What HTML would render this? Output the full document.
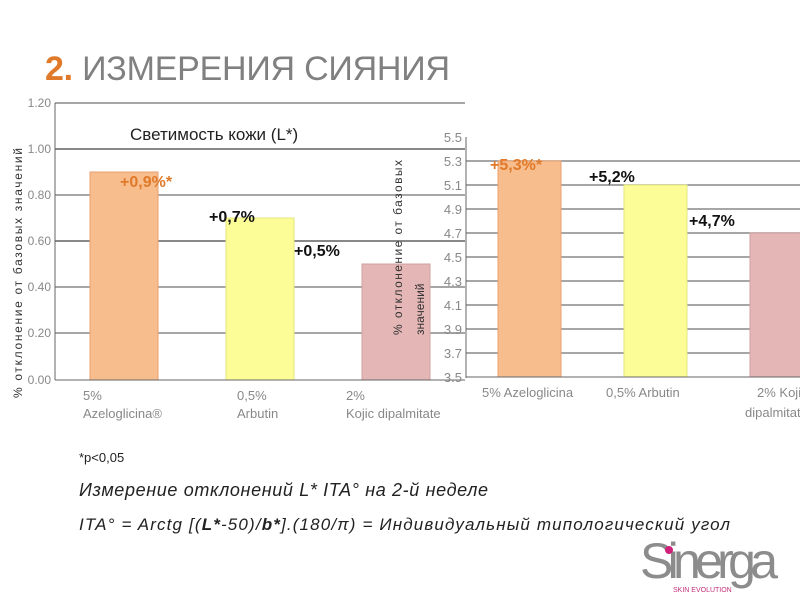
<!DOCTYPE html>
<html><head><meta charset="utf-8"><style>
body{margin:0;width:800px;height:600px;background:#fff;overflow:hidden;font-family:"Liberation Sans","DejaVu Sans",sans-serif}
</style></head><body>
<svg width="800" height="600" xmlns="http://www.w3.org/2000/svg" font-family="Liberation Sans, DejaVu Sans, sans-serif">
<text x="45" y="80" font-size="34" fill="#808080" textLength="405"><tspan fill="#e07a2a" font-weight="bold">2.</tspan> ИЗМЕРЕНИЯ СИЯНИЯ</text>
<!-- left chart -->
<g stroke="#888" stroke-width="1.5">
<line x1="55" y1="103" x2="465" y2="103"/>
<line x1="55" y1="149" x2="465" y2="149" stroke-width="2"/>
<line x1="55" y1="195" x2="465" y2="195"/>
<line x1="55" y1="241" x2="465" y2="241" stroke-width="2"/>
<line x1="55" y1="287" x2="465" y2="287"/>
<line x1="55" y1="333" x2="465" y2="333"/>
</g>
<rect x="90" y="172" width="68" height="208" fill="#f7bd8d" stroke="#e8a070"/>
<rect x="226" y="218" width="68" height="162" fill="#fdfd98" stroke="#e6e680"/>
<rect x="362" y="264" width="68" height="116" fill="#e4b6b6" stroke="#d0a0a0"/>
<line x1="55" y1="103" x2="55" y2="380" stroke="#666"/>
<line x1="55" y1="380" x2="465" y2="380" stroke="#666"/>
<g font-size="12" fill="#888" text-anchor="end">
<text x="51" y="107">1.20</text><text x="51" y="153">1.00</text><text x="51" y="199">0.80</text>
<text x="51" y="245">0.60</text><text x="51" y="291">0.40</text><text x="51" y="337">0.20</text><text x="51" y="384">0.00</text>
</g>
<text transform="translate(22,398) rotate(-90)" font-size="12" fill="#333" textLength="250">% отклонение от базовых значений</text>
<text x="130" y="140" font-size="17" fill="#222">Светимость кожи (L*)</text>
<g font-size="13" fill="#888">
<text x="83" y="400">5%</text><text x="83" y="418">Azeloglicina®</text>
<text x="237" y="400">0,5%</text><text x="237" y="418">Arbutin</text>
<text x="346" y="400">2%</text><text x="346" y="418">Kojic dipalmitate</text>
</g>
<g font-size="16" font-weight="bold">
<text x="120" y="187" fill="#e07a2a">+0,9%*</text>
<text x="209" y="222" fill="#111">+0,7%</text>
<text x="294" y="256" fill="#111">+0,5%</text>
</g>
<!-- right chart -->
<g stroke="#888" stroke-width="1.5">
<line x1="466" y1="161" x2="800" y2="161"/><line x1="466" y1="185" x2="800" y2="185"/>
<line x1="466" y1="209" x2="800" y2="209"/><line x1="466" y1="233" x2="800" y2="233"/>
<line x1="466" y1="257" x2="800" y2="257"/><line x1="466" y1="281" x2="800" y2="281"/>
<line x1="466" y1="305" x2="800" y2="305"/><line x1="466" y1="329" x2="800" y2="329"/>
<line x1="466" y1="353" x2="800" y2="353"/>
</g>
<rect x="498" y="161" width="63" height="216" fill="#f7bd8d" stroke="#e8a070"/>
<rect x="624" y="185" width="63" height="192" fill="#fdfd98" stroke="#e6e680"/>
<rect x="750" y="233" width="52" height="144" fill="#e4b6b6" stroke="#d0a0a0"/>
<line x1="466" y1="137" x2="466" y2="378" stroke="#666"/>
<line x1="466" y1="377" x2="800" y2="377" stroke="#666"/>
<g font-size="13" fill="#888" text-anchor="end">
<text x="462" y="142">5.5</text><text x="462" y="166">5.3</text><text x="462" y="190">5.1</text>
<text x="462" y="214">4.9</text><text x="462" y="238">4.7</text><text x="462" y="262">4.5</text>
<text x="462" y="286">4.3</text><text x="462" y="310">4.1</text><text x="462" y="334">3.9</text>
<text x="462" y="358">3.7</text><text x="462" y="382">3.5</text>
</g>
<text transform="translate(402,335) rotate(-90)" font-size="12" fill="#333" textLength="175">% отклонение от базовых</text>
<text transform="translate(424,335) rotate(-90)" font-size="12" fill="#333">значений</text>
<g font-size="13" fill="#888">
<text x="482" y="397">5% Azeloglicina</text>
<text x="606" y="397">0,5% Arbutin</text>
<text x="757" y="397">2% Kojic</text>
<text x="745" y="417">dipalmitate</text>
</g>
<g font-size="16" font-weight="bold">
<text x="490" y="170" fill="#e07a2a">+5,3%*</text>
<text x="589" y="182" fill="#111">+5,2%</text>
<text x="689" y="226" fill="#111">+4,7%</text>
</g>
<text x="79" y="462" font-size="13" fill="#222">*p&lt;0,05</text>
<text x="79" y="496" font-size="18" font-style="italic" fill="#222" textLength="409">Измерение отклонений L* ITA° на 2-й неделе</text>
<text x="79" y="530" font-size="17" font-style="italic" fill="#222" textLength="651">ITA° =  Arctg [(<tspan font-weight="bold">L*</tspan>-50)/<tspan font-weight="bold">b*</tspan>].(180/π) = Индивидуальный типологический угол</text>
<text x="640" y="578" font-size="50" fill="#8c8c8c" letter-spacing="-2" textLength="136">Sinerga</text>
<circle cx="669" cy="550" r="4" fill="#d0207a"/>
<text x="673" y="592" font-size="7" fill="#c0307a">SKIN EVOLUTION</text>
</svg>
</body></html>
